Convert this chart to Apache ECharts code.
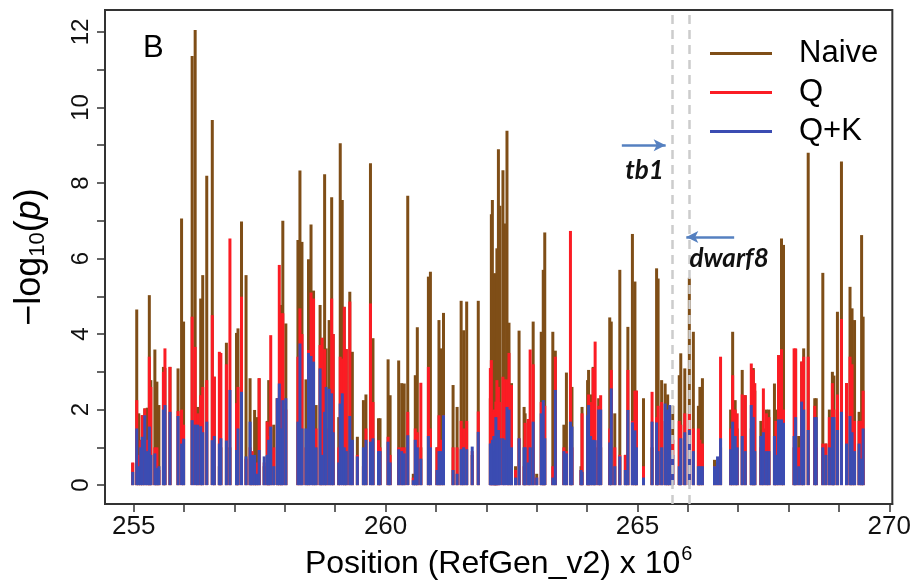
<!DOCTYPE html>
<html>
<head>
    <meta charset="utf-8">
    <title>-log10(p) along RefGen_v2</title>
    <script src="https://cdn.jsdelivr.net/npm/echarts@6/dist/echarts.min.js"></script>
    <style>
        html, body { margin: 0; padding: 0; background: #fff; }
        #main { width: 914px; height: 587px; }
    </style>
</head>
<body>
<div id="main"></div>
<script>
    // SNP positions (Mb) and -log10(p) for the three models
    var pos = [
        254.98,255.06,255.10,255.14,255.17,255.22,255.27,255.31,255.34,255.42,
        255.46,255.50,255.59,255.62,255.72,255.88,255.95,255.99,256.16,256.22,
        256.27,256.33,256.37,256.45,256.56,256.60,256.70,256.73,256.84,256.91,
        257.04,257.07,257.14,257.23,257.31,257.35,257.40,257.44,257.49,257.59,
        257.65,257.68,257.72,257.78,257.85,257.89,257.93,257.96,258.02,258.26,
        258.30,258.34,258.42,258.47,258.52,258.57,258.62,258.70,258.74,258.79,
        258.82,258.88,258.93,258.96,259.07,259.10,259.14,259.18,259.22,259.29,
        259.34,259.44,259.56,259.61,259.70,259.75,259.86,259.89,260.05,260.09,
        260.26,260.32,260.37,260.44,260.55,260.59,260.63,260.70,260.85,260.89,
        261.02,261.06,261.10,261.15,261.34,261.42,261.50,261.55,261.61,261.72,
        261.84,262.08,262.10,262.12,262.15,262.17,262.19,262.21,262.24,262.27,
        262.33,262.36,262.41,262.45,262.50,262.58,262.65,262.75,262.77,262.83,
        262.87,262.93,263.00,263.09,263.13,263.16,263.32,263.37,263.54,263.59,
        263.67,263.70,263.88,263.90,264.01,264.03,264.07,264.12,264.16,264.23,
        264.27,264.45,264.48,264.55,264.65,264.76,264.81,264.90,264.95,264.98,
        265.12,265.29,265.38,265.41,265.48,265.55,265.60,265.64,265.70,265.83,
        265.86,265.94,266.03,266.11,266.21,266.24,266.29,266.53,266.59,266.65,
        266.85,266.89,266.94,266.98,267.08,267.14,267.26,267.30,267.33,267.45,
        267.50,267.56,267.61,267.72,267.75,267.80,267.86,267.90,268.11,268.14,
        268.20,268.26,268.30,268.39,268.52,268.55,268.68,268.74,268.81,268.87,
        268.90,268.97,269.05,269.15,269.22,269.26,269.31,269.40,269.45,269.48
    ];
    var naive = [
        0.58,4.65,1.9,1.2,1.85,2.03,2.05,5.03,2.78,3.59,
        2.74,2.12,3.13,3.1,3.13,3.09,7.06,4.33,11.36,12.05,
        2.07,4.94,5.56,8.19,9.67,2.87,0.5,1.0,3.77,1.0,
        4.03,4.15,6.98,5.56,2.83,0.8,1.99,1.8,2.83,0.5,
        1.7,2.78,1.5,1.6,2.3,2.0,4.77,7.0,4.28,6.49,
        8.33,6.44,2.8,5.98,6.9,5.15,2.12,4.77,3.9,8.23,
        3.62,4.37,7.62,4.0,1.8,9.05,7.55,4.72,3.6,5.12,
        3.53,1.28,2.25,2.4,8.52,3.89,1.77,1.77,3.33,2.38,
        3.3,2.7,2.69,7.66,0.3,2.91,4.18,1.0,5.52,5.65,
        1.0,4.37,3.62,4.56,2.65,2.07,4.88,4.1,4.86,0.8,
        4.88,2.3,7.17,7.55,5.6,5.61,3.91,6.27,8.89,7.4,
        8.34,6.93,9.38,4.3,2.7,0.5,4.09,2.07,1.9,1.0,
        1.0,4.33,0.3,4.06,5.7,6.69,4.06,3.56,1.6,2.98,
        1.0,2.6,0.5,2.07,2.78,3.05,2.4,3.13,1.0,2.3,
        1.0,4.44,4.33,1.9,5.7,0.8,4.19,6.65,5.39,2.5,
        2.3,1.0,5.74,5.47,2.78,2.69,2.4,1.5,2.1,2.91,
        3.49,3.09,5.49,4.06,2.1,2.6,2.83,0.67,0.5,1.0,
        2.0,4.06,2.25,1.5,3.05,2.38,1.5,3.1,2.5,1.7,
        1.5,2.0,2.0,2.69,2.0,3.44,6.53,6.36,1.0,3.6,
        1.3,3.27,3.62,8.8,2.3,2.3,5.62,1.1,2.0,3.0,
        2.9,4.59,8.57,2.7,5.25,4.68,4.37,1.94,6.62,4.46
    ];
    var q = [
        0.6,2.25,0.8,1.19,1.85,2.03,1.2,3.4,2.6,1.0,
        1.0,0.4,3.0,3.62,3.13,1.96,2.0,1.6,4.46,3.66,
        1.9,2.38,2.6,2.78,4.5,2.87,3.53,3.5,3.2,6.53,
        2.17,2.6,4.99,0.7,1.0,0.9,0.5,0.6,2.83,0.6,
        1.68,1.3,3.97,1.0,2.3,5.83,4.55,4.55,2.0,3.4,
        4.68,4.0,1.0,3.58,5.1,4.94,1.5,3.71,3.9,3.6,
        1.5,1.5,4.94,4.0,1.0,3.4,3.35,4.72,3.6,4.86,
        1.0,0.8,0.5,1.5,4.81,2.2,1.19,1.0,1.28,0.8,
        1.0,1.0,1.0,1.94,0.2,1.5,1.4,2.71,3.13,1.5,
        1.0,1.85,1.2,1.85,1.0,1.0,1.7,1.5,1.7,0.9,
        1.95,3.1,3.31,1.94,2.0,1.94,2.21,2.78,2.6,2.2,
        2.87,2.8,2.8,3.5,2.65,0.4,1.24,0.5,1.65,1.75,
        3.59,3.2,0.2,2.2,2.2,2.1,0.5,3.4,1.0,0.9,
        6.73,1.0,0.4,1.9,1.0,2.4,2.2,3.1,3.8,2.1,
        2.38,1.5,3.05,1.0,0.8,0.8,3.05,1.7,2.5,2.5,
        0.5,2.47,1.8,2.1,2.2,1.7,1.5,1.0,1.2,1.7,
        1.6,1.9,1.9,1.5,1.5,1.2,1.1,0.5,0.6,3.4,
        1.5,2.91,2.0,1.9,2.4,2.38,3.22,3.05,2.7,1.0,
        2.56,1.9,1.8,1.3,1.7,3.44,3.6,2.0,3.62,3.62,
        1.0,3.27,3.4,3.4,2.1,1.0,1.1,1.1,1.8,2.7,
        2.0,2.4,4.4,2.7,3.4,3.2,1.7,1.7,1.7,2.5
    ];
    var qk = [
        0.35,1.5,0.5,1.0,1.28,1.85,0.9,1.55,0.8,0.84,
        0.45,0.5,2.0,2.12,1.94,1.83,1.1,1.23,1.72,1.6,
        1.6,1.56,1.4,1.68,1.19,1.3,1.1,1.24,1.18,2.52,
        0.93,1.5,2.47,0.76,1.68,0.8,0.8,0.3,0.93,0.76,
        0.8,1.2,1.55,0.5,2.3,2.69,1.5,2.25,2.3,1.68,
        3.75,1.5,1.5,3.5,3.42,3.27,1.0,3.09,0.8,1.94,
        2.6,2.55,2.43,1.4,0.6,2.16,2.43,1.0,0.9,1.83,
        1.2,0.76,1.0,1.2,1.15,1.24,0.9,0.9,1.15,0.6,
        0.95,0.9,0.84,1.32,0.13,1.2,1.0,0.7,1.3,1.0,
        0.4,0.9,0.9,1.85,0.4,0.3,0.95,1.0,0.95,1.02,
        1.41,1.1,1.1,1.2,1.3,0.9,1.8,1.24,1.46,1.24,
        1.24,1.2,2.07,2.0,1.0,0.2,1.24,1.0,1.0,0.6,
        1.0,1.68,0.2,1.9,2.25,1.24,0.2,2.52,0.9,0.84,
        1.68,1.55,0.4,0.35,1.85,2.12,1.3,1.2,1.19,2.0,
        2.0,1.13,2.56,0.5,0.76,0.4,1.99,1.66,1.45,1.0,
        0.2,1.68,1.66,0.9,1.0,2.16,2.0,2.12,0.8,0.5,
        1.24,1.4,1.46,0.9,0.5,0.5,0.5,0.5,0.76,1.24,
        0.95,1.68,1.3,1.0,1.3,0.9,2.12,1.8,0.9,1.3,
        1.4,0.9,0.9,1.3,0.8,1.74,1.74,1.65,1.3,1.8,
        0.5,2.21,2.0,1.46,1.8,1.8,1.0,0.8,1.0,1.8,
        1.8,1.46,1.94,1.1,1.83,1.4,0.9,1.1,0.7,1.5
    ];

    var xTicks = [255,256,257,258,259,260,261,262,263,264,265,266,267,268,269,270];
    var xLabels = [255,260,265,270];
    var yTicks = [0,1,2,3,4,5,6,7,8,9,10,11,12];
    var yLabels = [0,2,4,6,8,10,12];

    // gene marks (Mb)
    var tb1Pos = 265.70;
    var dwarf8Pos = 266.03;

    var colNaive = '#7f4e17';
    var colQ = '#fb1c24';
    var colQK = '#3b4cb2';

    function pairs(vals) {
        var out = [];
        for (var i = 0; i < pos.length; i++) {
            out.push([pos[i], vals[i]]);
        }
        return out;
    }

    // type="h" style vertical sticks from 0
    function stick(color) {
        return function (params, api) {
            var top = api.coord([api.value(0), api.value(1)]);
            var base = api.coord([api.value(0), 0]);
            return {
                type: 'line',
                shape: { x1: base[0], y1: base[1], x2: top[0], y2: top[1] },
                style: { stroke: color, lineWidth: 3, lineCap: 'butt' }
            };
        };
    }

    var axisFont = "'Liberation Sans Narrow', 'Arial Narrow', 'Liberation Sans', sans-serif";
    var textFont = "'Liberation Sans', Arial, sans-serif";
    var noteFont = "Lato, 'Open Sans', sans-serif";

    var chart = echarts.init(document.getElementById('main'));
    chart.setOption({
        animation: false,
        backgroundColor: '#fff',
        title: {
            text: 'B',
            left: 138,
            top: 28,
            textStyle: { fontSize: 31, fontWeight: 'normal', color: '#000', fontFamily: textFont }
        },
        legend: {
            data: ['Naive', 'Q', 'Q+K'],
            orient: 'vertical',
            left: 705,
            top: 33,
            icon: 'rect',
            itemWidth: 62,
            itemHeight: 3,
            itemGap: 8,
            textStyle: { fontSize: 31, color: '#000', fontFamily: textFont, padding: [0, 0, 0, 22] }
        },
        grid: {
            left: 105,
            right: 17,
            top: 10,
            bottom: 83,
            show: true,
            borderColor: '#333',
            borderWidth: 2
        },
        xAxis: {
            type: 'value',
            position: 'bottom',
            min: 254.43,
            max: 270.06,
            name: '{a|Position (RefGen_v2) x 10}{u|6}',
            nameLocation: 'middle',
            nameGap: 40,
            nameTextStyle: {
                rich: {
                    a: { fontSize: 32, color: '#000', fontFamily: axisFont },
                    u: { fontSize: 20, color: '#000', fontFamily: axisFont, padding: [0, 0, 18, 1] }
                }
            },
            axisLine: { show: true, onZero: false, lineStyle: { color: '#333', width: 2 } },
            splitLine: { show: false },
            axisTick: { show: true, inside: false, customValues: xTicks, length: 8, lineStyle: { color: '#333', width: 1.5 } },
            axisLabel: { customValues: xLabels, fontSize: 26, color: '#111', margin: 10, fontFamily: axisFont }
        },
        yAxis: {
            type: 'value',
            position: 'left',
            min: -0.5,
            max: 12.58,
            name: '{a|\u2212log}{s|10}{a|(}{i|p}{a|)}',
            nameLocation: 'middle',
            nameRotate: 90,
            nameGap: 56,
            nameTextStyle: {
                rich: {
                    a: { fontSize: 36, color: '#000', fontFamily: axisFont },
                    s: { fontSize: 22, color: '#000', fontFamily: axisFont, padding: [16, 0, 0, 0] },
                    i: { fontSize: 36, color: '#000', fontFamily: axisFont, fontStyle: 'italic' }
                }
            },
            axisLine: { show: true, onZero: false, lineStyle: { color: '#333', width: 2 } },
            splitLine: { show: false },
            axisTick: { show: true, inside: false, customValues: yTicks, length: 8, lineStyle: { color: '#333', width: 1.5 } },
            axisLabel: { customValues: yLabels, rotate: 90, fontSize: 24, color: '#111', margin: 12, fontFamily: axisFont }
        },
        series: [
            {
                name: 'Naive',
                type: 'custom',
                renderItem: stick(colNaive),
                itemStyle: { color: colNaive },
                encode: { x: 0, y: 1 },
                data: pairs(naive),
                z: 2
            },
            {
                name: 'Q',
                type: 'custom',
                renderItem: stick(colQ),
                itemStyle: { color: colQ },
                encode: { x: 0, y: 1 },
                data: pairs(q),
                z: 3
            },
            {
                name: 'Q+K',
                type: 'custom',
                renderItem: stick(colQK),
                itemStyle: { color: colQK },
                encode: { x: 0, y: 1 },
                data: pairs(qk),
                z: 4
            },
            {
                name: 'genes',
                type: 'line',
                data: [],
                z: 10,
                silent: true,
                markLine: {
                    silent: true,
                    symbol: 'none',
                    label: { show: false },
                    data: [
                        { xAxis: tb1Pos, lineStyle: { color: '#cccccc', width: 2.5, type: [9, 6] } },
                        { xAxis: dwarf8Pos, lineStyle: { color: '#cccccc', width: 2.5, type: [9, 6] } },
                        [
                            { coord: [264.69, 9.0], symbol: 'none', lineStyle: { color: '#5580c0', width: 2.5, type: 'solid' } },
                            { coord: [265.56, 9.0], symbol: 'arrow', symbolSize: [9, 12] }
                        ],
                        [
                            { coord: [266.92, 6.57], symbol: 'none', lineStyle: { color: '#5580c0', width: 2.5, type: 'solid' } },
                            { coord: [265.97, 6.57], symbol: 'arrow', symbolSize: [9, 12] }
                        ]
                    ]
                },
                markPoint: {
                    silent: true,
                    symbolSize: 0,
                    label: {
                        show: true,
                        position: 'inside',
                        formatter: function (p) { return p.name; },
                        fontSize: 26,
                        fontWeight: 'bold',
                        fontStyle: 'italic',
                        color: '#111',
                        fontFamily: noteFont
                    },
                    data: [
                        { name: 'tb1', coord: [265.14, 8.34] },
                        { name: 'dwarf8', coord: [266.82, 6.01] }
                    ]
                }
            }
        ]
    });
</script>
</body>
</html>
